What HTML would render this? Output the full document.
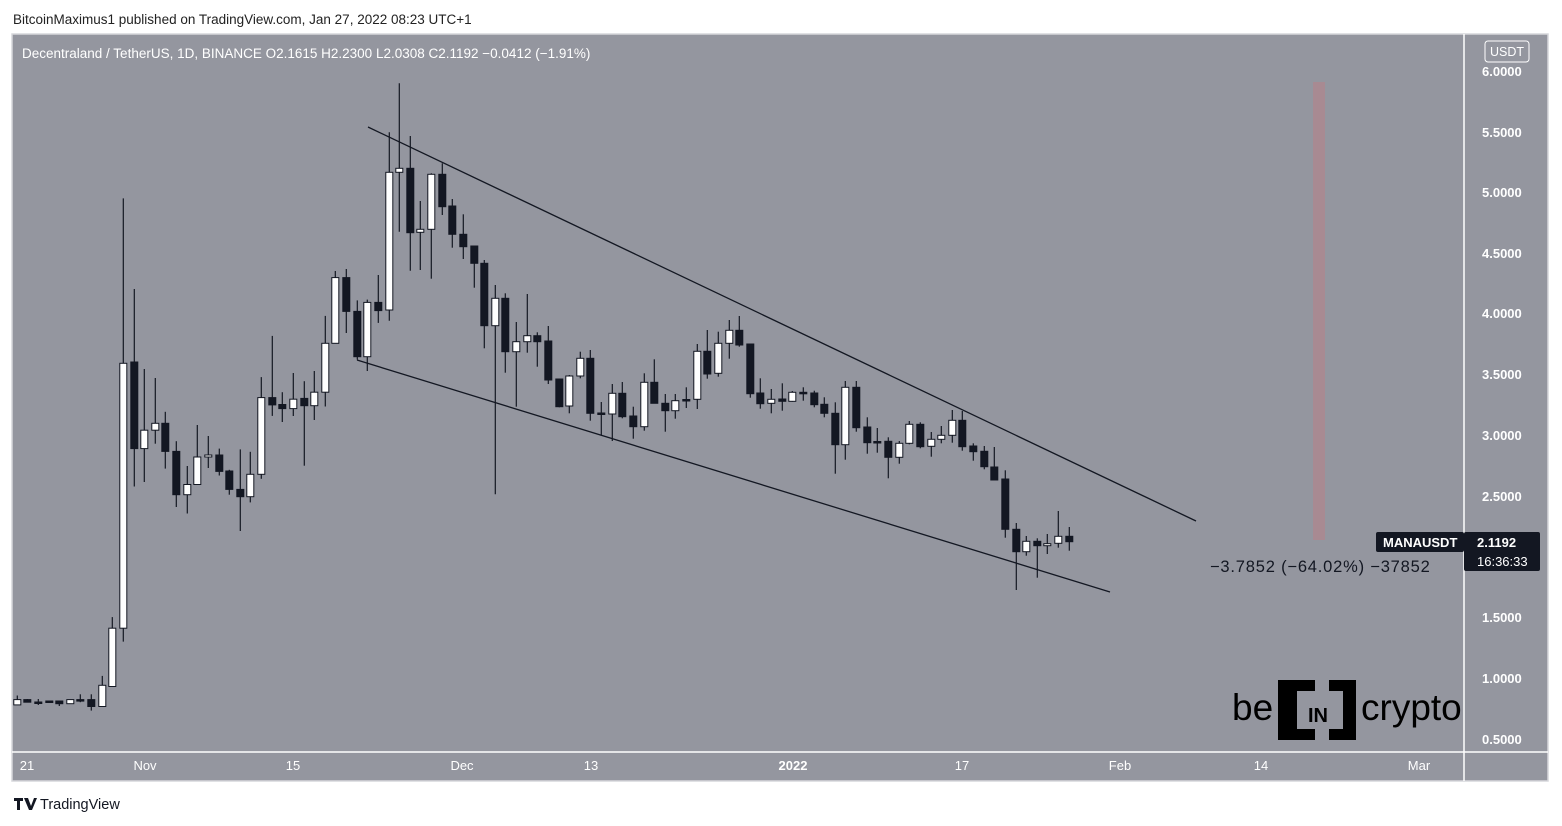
<!DOCTYPE html>
<html><head><meta charset="utf-8"><style>
html,body{margin:0;padding:0;background:#fff;width:1562px;height:826px;overflow:hidden;font-family:"Liberation Sans",sans-serif;}
</style></head><body>
<svg width="1562" height="826" xmlns="http://www.w3.org/2000/svg" font-family="Liberation Sans, sans-serif">
<text x="13" y="24" font-size="13.5" fill="#222">BitcoinMaximus1 published on TradingView.com, Jan 27, 2022 08:23 UTC+1</text>
<rect x="12" y="34" width="1536" height="747" fill="#94969f"/>
<rect x="12" y="34" width="1536" height="747" fill="none" stroke="#d6d7db" stroke-width="1.5"/>
<line x1="1464" y1="34" x2="1464" y2="781" stroke="#fff" stroke-width="1.5"/>
<line x1="12" y1="752" x2="1548" y2="752" stroke="#fff" stroke-width="1.5"/>
<text x="22" y="58" font-size="13.5" fill="#fff">Decentraland / TetherUS, 1D, BINANCE  O2.1615  H2.2300  L2.0308  C2.1192  −0.0412 (−1.91%)</text>
<rect x="1313" y="82" width="12" height="458" fill="#a88a92"/>
<g font-size="13" fill="#fff" font-weight="bold">
<text x="1482" y="76">6.0000</text><text x="1482" y="137">5.5000</text><text x="1482" y="197">5.0000</text>
<text x="1482" y="258">4.5000</text><text x="1482" y="318">4.0000</text><text x="1482" y="379">3.5000</text>
<text x="1482" y="440">3.0000</text><text x="1482" y="501">2.5000</text><text x="1482" y="622">1.5000</text>
<text x="1482" y="683">1.0000</text><text x="1482" y="744">0.5000</text>
</g>
<rect x="1485" y="41" width="44" height="21" rx="3" fill="none" stroke="#fff"/>
<text x="1490" y="56" font-size="12.5" fill="#fff">USDT</text>
<g font-size="13" fill="#fff" text-anchor="middle">
<text x="27" y="770">21</text><text x="145" y="770">Nov</text><text x="293" y="770">15</text><text x="462" y="770">Dec</text>
<text x="591" y="770">13</text><text x="793" y="770" font-weight="bold">2022</text><text x="962" y="770">17</text>
<text x="1120" y="770">Feb</text><text x="1261" y="770">14</text><text x="1419" y="770">Mar</text>
</g>
<line x1="368" y1="127" x2="1196" y2="521" stroke="#131722" stroke-width="1.3"/>
<line x1="357" y1="360" x2="1110" y2="592" stroke="#131722" stroke-width="1.3"/>
<g id="c"></g>
<text x="1210" y="572" font-size="16.5" letter-spacing="0.8" fill="#131722">−3.7852 (−64.02%) −37852</text>
<rect x="1376" y="532" width="88" height="20" rx="2" fill="#131722"/>
<text x="1383" y="547" font-size="13" fill="#fff" font-weight="bold">MANAUSDT</text>
<rect x="1464" y="532" width="76" height="39" rx="2" fill="#131722"/>
<text x="1477" y="547" font-size="13" fill="#fff" font-weight="bold">2.1192</text>
<text x="1477" y="566" font-size="13" fill="#fff">16:36:33</text>
<text x="1232" y="720" font-size="37" fill="#000">be</text>
<path d="M1278 680h37v11h-18v38h18v11h-37z M1356 680h-27v11h14v38h-14v11h27z" fill="#000"/>
<text x="1318" y="722" font-size="20" font-weight="bold" fill="#000" text-anchor="middle">IN</text>
<text x="1361" y="720" font-size="37" fill="#000">crypto</text>
<path d="M14 798h9v3h-3v9h-3v-9h-3z M24 798h4l3 8 3-8h3l-5 12h-3z" fill="#131722"/>
<text x="40" y="809" font-size="14.5" fill="#131722">TradingView</text>
</svg>
<script>
var d=[[17.3,699.6,704.9,695.5,704.9,1],[27.3,699.6,702.2,699,702.2,0],[38.3,702,703,699,705,0],[49.3,701,702.5,701,702.5,0],[59.3,701,703.7,701,706,0],[70.3,699.6,703.7,699.6,703.7,1],[80.3,699.6,700.6,694.3,702.2,0],[91.3,699.6,706.5,694.3,710.6,0],[102.3,685.3,706.5,675.9,706.5,1],[112.3,628.2,686.5,617.1,686.5,1],[123.3,363.3,628.2,198.4,641.6,1],[134.3,362,448.6,289,486.5,0],[144.3,430.2,448.6,369,482,1],[155.3,423.3,430.2,378,443.7,1],[165.3,423.3,451.4,411.8,468.6,0],[176.3,451.4,494.7,441.2,507,0],[187.3,484.5,494.7,466,513.5,1],[197.3,457,484.5,425,484.5,1],[208.3,455,457,436,468,1],[219.3,455,471.4,448.6,475.5,0],[229.3,471,489.4,469.8,494.7,0],[240.3,489.4,496.7,449.4,531,0],[250.3,474.3,496.7,451.8,502.4,1],[261.3,397.6,474.3,377.1,478.8,1],[272.3,397.6,404.9,335.9,415.9,0],[282.3,404.5,408.6,392.2,422,0],[293.3,399.2,408.6,373,416,1],[304.3,398.4,405.7,381.2,465.7,0],[314.3,392.2,405.7,371,420,1],[325.3,343.3,392.2,315.9,406.5,1],[335.3,277.6,343.3,271,343.3,1],[346.3,277.6,311.4,269,333,0],[357.3,311.4,356.7,300.4,359.6,0],[367.3,302.4,356.7,299.6,371,1],[378.3,302.4,310.6,275,322.9,0],
[389.3,172.3,310,132.3,320.7,1],[399.3,168.3,172.3,83.3,231.7,1],[410.3,168.3,232.7,136,270.7,0],[420.3,229.3,232.3,201,270,1],[431.3,174.3,229.3,173.3,278.7,1],[442.3,174.3,206.7,163.3,215,0],[452.3,206,234.3,199,247.7,0],[463.3,234.3,246.7,214.3,259,0],[474.3,246,263.3,246,287.7,0],[484.3,263.3,325.7,260,348.3,0],[495.3,298.3,325.7,285,494.3,1],[505.3,298.3,351.7,293.3,372.7,0],[516.3,341.7,351.7,322,406.7,1],[527.3,335.7,341.7,294,352.7,1],[537.3,335.7,341.7,332.3,366.7,0],[548.3,341,380,326,384,0],[559.3,379,406.7,379,407.3,0],[569.3,376,406,375,413.3,1],[580.3,358.3,376,351.7,378.3,1],[590.3,358.3,413.3,350,420.7,0],[601.3,413,414,402,435.3,0],[612.3,393.3,414,384,441,1],[622.3,393.3,416.7,382,418.3,0],[633.3,416,426.7,406.7,438.7,0],[644.3,382.3,426.7,373.3,430.7,1],[654.3,382.3,403.3,359.3,403.3,0],[665.3,403.3,410.7,394,431.7,0],[675.3,400.7,410.7,394,418.7,1],[686.3,399.5,400.5,387.3,408,0],[697.3,351.3,399.3,344,409,1],[707.3,351.3,374,330,378.7,0],[718.3,343.3,373.3,331.7,376.7,1],[729.3,330.3,343.3,320,358.7,1],[739.3,330.3,345,316,346.7,0],
[750.3,344,393.7,344,397.7,0],[760.3,393,403.7,378.3,408.7,0],[771.3,399.3,403.3,389,413.3,1],[782.3,399,401.3,383.3,410.7,0],[792.3,392.3,401.3,391,401.7,1],[803.3,392.3,393.3,387.3,400.7,0],[814.3,393,404.7,390.7,407.3,0],[824.3,404.3,413.3,397.3,417.3,0],[835.3,413.3,444.7,402.3,473.7,0],[845.3,387.3,444.7,381,459.7,1],[856.3,387.3,427.7,381,431.7,0],[867.3,427,442.7,417.3,453.7,0],[877.3,441.5,442.5,428,452.7,0],[888.3,441.3,457.3,437.3,478.3,0],[899.3,443.3,457.3,441,463.7,1],[909.3,424.3,443.3,421,444.3,1],[920.3,424.3,446.7,422.3,448.3,0],[931.3,439.3,446.3,432,456.7,1],[941.3,435.3,439.3,426,443.3,1],[952.3,420.3,435.3,410,442.7,1],[962.3,420.3,446.7,411,450.7,0],[973.3,446,451.7,443.3,460.7,0],[984.3,451.3,466.7,446,469.3,0],[994.3,467,480,447,480.3,0],[1005.3,479,529.3,470.3,537.7,0],[1016.3,529.3,551.7,523,590,0],[1026.3,541.3,551.7,536,555.7,1],[1037.3,541.3,545.7,538.3,577.7,0],[1047.3,543.7,545.7,534,554,1],[1058.3,536.3,543.3,511,547.7,1],[1069.3,536.3,541.7,527,550.7,0]];
var s='';
d.forEach(function(c){var x=c[0],t=c[1],b=c[2],h=Math.max(b-t,1.5);
s+='<line x1="'+x+'" y1="'+Math.min(c[3],t)+'" x2="'+x+'" y2="'+Math.max(c[4],b)+'" stroke="#131722" stroke-width="1.2"/>';
s+='<rect x="'+(x-3.5)+'" y="'+t+'" width="7" height="'+h+'" fill="'+(c[5]?'#fff':'#131722')+'" stroke="#131722" stroke-width="1"/>';});
document.getElementById('c').innerHTML=s;
</script>
</body></html>
